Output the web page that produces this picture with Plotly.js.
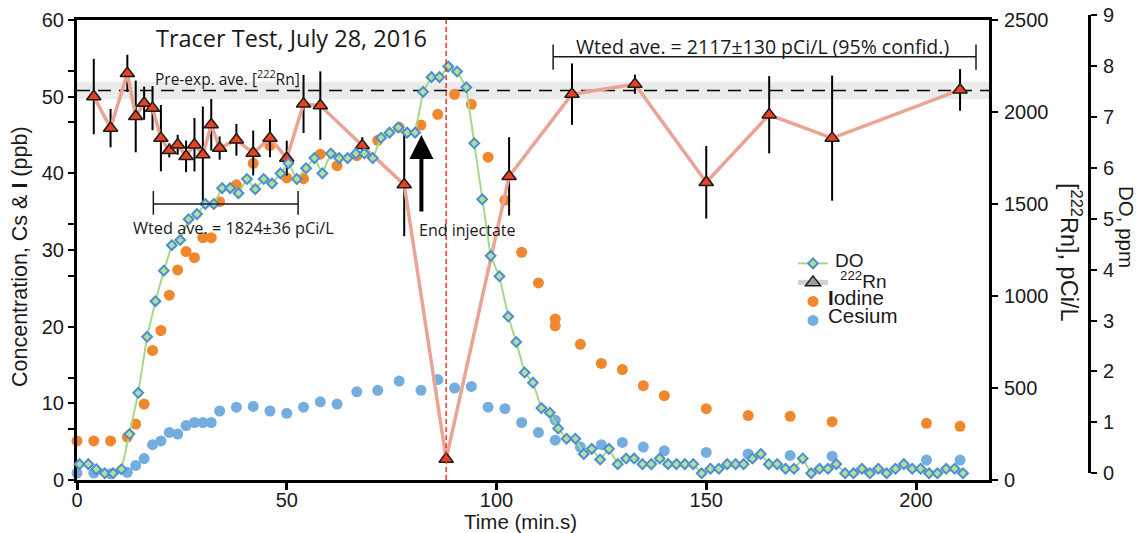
<!DOCTYPE html>
<html>
<head>
<meta charset="utf-8">
<script src="https://cdn.plot.ly/plotly-3.0.1.min.js"></script>
<style>
  html, body { margin: 0; padding: 0; background: #ffffff; }
  #chart { width: 1139px; height: 533px; }
</style>
</head>
<body>
<div id="chart"></div>
<script>
// Grab-sample times (min) shared by the iodine and cesium analyses
const sampleTime = [0, 4, 8, 12, 14, 16, 18, 20, 22, 24, 26, 28, 30, 32, 34, 38, 42, 46, 50, 54,
  58, 62, 66.7, 71.7, 76.8, 82, 86, 90, 94, 98, 102, 106, 110, 114, 114, 120, 125, 130, 135, 140,
  150, 160, 170, 180, 202.5, 210.5];
// Iodine, ppb
const iodine = [5.1, 5.1, 5.1, 5.6, 7.3, 9.9, 16.9, 19.5, 24.1, 27.4, 29.8, 29.0, 31.6, 31.6, 36.3, 38.5,
  41.3, 43.6, 39.4, 39.3, 42.5, 41.0, 42.3, 44.3, 46.0, 46.3, 47.7, 50.3, 49.0, 42.1, 36.5, 29.7,
  25.7, 21.0, 20.1, 17.7, 15.2, 14.4, 12.3, 11.0, 9.3, 8.4, 8.3, 7.6, 7.4, 7.0];
// Cesium, ppb
const cesium = [0.9, 0.9, 0.8, 1.0, 1.9, 2.8, 4.6, 5.1, 6.2, 6.0, 7.1, 7.5, 7.5, 7.5, 9.0, 9.5,
  9.6, 9.0, 8.7, 9.5, 10.2, 9.9, 11.5, 11.7, 12.9, 11.7, 13.1, 12.0, 12.2, 9.5, 9.3, 7.5,
  6.2, 7.8, 5.2, 4.3, 4.6, 4.9, 4.3, 3.8, 3.6, 3.4, 3.2, 3.1, 2.6, 2.6];

// Dissolved oxygen probe readings
const doTime = [0.6, 2.7, 4.6, 6.6, 8.6, 10.6, 12.5, 14.6, 16.7, 18.7, 20.7, 22.6, 24.6, 26.6, 28.6,
  30.6, 32.6, 34.6, 36.5, 38.5, 40.5, 42.5, 44.5, 46.5, 48.5, 50.4, 52.4, 54.6, 56.6, 58.5, 60.5,
  62.5, 64.5, 66.5, 68.5, 70.5, 72.5, 74.5, 76.6, 78.7, 80.6, 82.5, 84.5, 86.4, 88.5, 90.6, 92.8,
  94.7, 96.6, 98.6, 100.7, 102.8, 104.7, 106.7, 108.7, 110.7, 112.7, 114.7, 116.7, 118.8, 120.8,
  122.7, 124.7, 126.8, 128.9, 130.9, 132.8, 134.8, 136.9, 138.9, 140.9, 142.9, 144.9, 146.9, 148.9,
  151.0, 153.0, 155.0, 157.0, 158.9, 161.0, 163.0, 164.9, 166.9, 168.9, 170.9, 173.0, 175.0, 177.0,
  179.0, 181.0, 183.1, 185.1, 187.1, 189.0, 191.0, 193.0, 195.1, 197.1, 199.1, 201.1, 203.1, 205.1,
  207.2, 209.2, 211.2];
const doPpm = [0.18, 0.18, 0.08, 0.0, 0.0, 0.08, 0.77, 1.58, 2.68, 3.38, 3.98, 4.48, 4.58, 4.99, 5.09,
  5.29, 5.29, 5.6, 5.6, 5.5, 5.78, 5.58, 5.78, 5.69, 5.89, 6.09, 5.78, 5.99, 6.19, 5.89, 6.28,
  6.19, 6.19, 6.28, 6.28, 6.19, 6.59, 6.69, 6.79, 6.69, 6.69, 7.49, 7.78, 7.78, 7.99, 7.89, 7.58,
  6.48, 5.38, 4.27, 3.87, 3.08, 2.58, 1.98, 1.78, 1.28, 1.19, 0.88, 0.68, 0.68, 0.38,
  0.48, 0.27, 0.48, 0.18, 0.29, 0.29, 0.18, 0.18, 0.29, 0.18, 0.18, 0.18, 0.18, 0.0,
  0.09, 0.09, 0.18, 0.18, 0.18, 0.29, 0.38, 0.18, 0.18, 0.09, 0.09, 0.29, 0.0, 0.09,
  0.09, 0.18, 0.0, 0.0, 0.09, 0.0, 0.09, 0.0, 0.09, 0.18, 0.09, 0.09, 0.0, 0.0,
  0.09, 0.09, 0.0];

// Radon-222, pCi/L, with counting uncertainty
const rnTime = [4, 8, 12, 14, 16, 18, 20, 22, 24, 26, 28, 30, 32, 34, 38, 42, 46, 50, 54, 58,
  68, 78, 88, 103, 118, 133, 150, 165, 180, 210.5];
const rnConc = [2084, 1912, 2210, 1976, 2048, 2021, 1858, 1791, 1822, 1759, 1822, 1768, 1931, 1804,
  1849, 1777, 1858, 1749, 2044, 2035, 1818, 1605, 114, 1650, 2097, 2151, 1618, 1985, 1858, 2120];
const rnErr = [205, 104, 101, 195, 90, 120, 180, 38, 54, 86, 145, 262, 140, 63,
  86, 122, 104, 95, 158, 186, 45, 280, 0, 213, 167, 52, 197, 210, 340, 113];

// Reference radon level and its band, end of injection time
const rnAverage = 2117;
const rnBandHalf = 48;
const endInjection = 88;

// Averaging windows (min) for the two weighted radon means
const earlyWindow = [18.2, 52.7];
const lateWindow = [113.5, 214.3];

const xTickVals = [0, 50, 100, 150, 200];
const concTickVals = [0, 10, 20, 30, 40, 50, 60];
const rnTickVals = [0, 500, 1000, 1500, 2000, 2500];
const doTickVals = [0, 1, 2, 3, 4, 5, 6, 7, 8, 9];

const ARIAL = 'Liberation Sans, Arial, sans-serif';
const HUMANIST = 'Open Sans, Noto Sans, sans-serif';
const INK = '#1a1a1a';

const traces = [
  {
    x: sampleTime, y: cesium, type: 'scatter', mode: 'markers', name: '',
    xaxis: 'x', yaxis: 'y', cliponaxis: false, legendrank: 4,
    marker: { color: '#74ade0', size: 11 }
  },
  {
    x: sampleTime, y: iodine, type: 'scatter', mode: 'markers', name: '',
    xaxis: 'x', yaxis: 'y', cliponaxis: false, legendrank: 3,
    marker: { color: '#f0872c', size: 11 }
  },
  {
    x: rnTime, y: rnConc, type: 'scatter', mode: 'lines+markers', name: 'Rn',
    xaxis: 'x', yaxis: 'y2', cliponaxis: false, showlegend: false,
    line: { color: '#eaa496', width: 3.5 },
    marker: { symbol: 'triangle-up', size: 12.5, color: '#e8421e', line: { color: INK, width: 1.5 } },
    error_y: { type: 'data', array: rnErr, visible: true, color: '#000000', thickness: 2, width: 0 }
  },
  {
    x: doTime, y: doPpm, type: 'scatter', mode: 'lines+markers', name: '',
    xaxis: 'x', yaxis: 'y3', cliponaxis: false, legendrank: 1,
    line: { color: '#a6d986', width: 2 },
    marker: { symbol: 'diamond', size: 7.5, color: '#b8de90', line: { color: '#4a8fd6', width: 2 } }
  },
  {
    // legend key for the radon series
    x: [null], y: [null], type: 'scatter', mode: 'lines+markers', name: '',
    xaxis: 'x', yaxis: 'y', legendrank: 2,
    line: { color: '#d0d0d0', width: 5 },
    marker: { symbol: 'triangle-up', size: 13, color: '#9c9c9c', line: { color: INK, width: 1.5 } }
  }
];

const tickFont = { family: ARIAL, size: 20, color: INK };

// text placed in the plotting area (x: minutes, y: ppb axis)
function note(text, x, y, size) {
  return { text: text, xref: 'x', yref: 'y', x: x, y: y, showarrow: false,
    xanchor: 'center', yanchor: 'middle', font: { family: HUMANIST, size: size, color: INK } };
}
// text placed in paper coordinates
function paperText(text, x, y, size, angle, xanchor) {
  return { text: text, xref: 'paper', yref: 'paper', x: x, y: y, showarrow: false,
    textangle: angle || 0, xanchor: xanchor || 'center', yanchor: 'middle',
    font: { family: ARIAL, size: size, color: INK } };
}

const layout = {
  width: 1139, height: 533,
  margin: { l: 77, r: 40, t: 15, b: 53, pad: 0 },
  paper_bgcolor: '#ffffff', plot_bgcolor: 'rgba(0,0,0,0)',
  showlegend: true,
  legend: {
    x: 0.7006, y: 0.497, xanchor: 'left', yanchor: 'top',
    bgcolor: 'rgba(0,0,0,0)', borderwidth: 0,
    font: { family: ARIAL, size: 11, color: INK },
    tracegroupgap: 0, itemwidth: 30
  },
  xaxis: {
    domain: [0, 912 / 1022], range: [0, 217.4], anchor: 'y',
    showgrid: false, zeroline: false, showline: true, linecolor: '#000', linewidth: 3, mirror: true,
    ticks: 'outside', tickvals: xTickVals, ticklen: 7, tickwidth: 3, tickcolor: '#000',
    ticklabelstandoff: -7, tickfont: tickFont
  },
  yaxis: {
    domain: [0, 460 / 465], range: [0, 60], anchor: 'x',
    showgrid: false, zeroline: false, showline: true, linecolor: '#000', linewidth: 3,
    ticks: 'outside', tickvals: concTickVals, ticklen: 6, tickwidth: 2, tickcolor: '#000',
    minor: { tick0: 0, dtick: 20 / 3, ticks: 'outside', ticklen: 6, tickwidth: 2, tickcolor: '#000' },
    tickfont: tickFont
  },
  yaxis2: {
    overlaying: 'y', side: 'right', anchor: 'x', range: [0, 2500],
    showgrid: false, zeroline: false, showline: true, linecolor: '#000', linewidth: 3,
    ticks: 'outside', tickvals: rnTickVals, ticklen: 6, tickwidth: 2, tickcolor: '#000',
    ticklabelstandoff: 2, tickfont: tickFont
  },
  yaxis3: {
    domain: [6.7 / 465, 1], range: [0, 9], anchor: 'free', position: 0.9902, side: 'right',
    showgrid: false, zeroline: false, showline: true, linecolor: '#000', linewidth: 3,
    ticks: 'outside', tickvals: doTickVals, ticklen: 6, tickwidth: 2, tickcolor: '#000',
    ticklabelstandoff: 2, tickfont: tickFont
  },
  shapes: [
    // band around the reference radon level
    { type: 'rect', layer: 'below', xref: 'x domain', yref: 'y2', x0: 0, x1: 1,
      y0: rnAverage - rnBandHalf, y1: rnAverage + rnBandHalf, fillcolor: '#ebebeb', line: { width: 0 } },
    { type: 'line', layer: 'below', xref: 'x domain', yref: 'y2', x0: 0, x1: 1,
      y0: rnAverage, y1: rnAverage, line: { color: '#000', width: 1.5, dash: '13px,8px' } },
    // end of injection
    { type: 'line', layer: 'above', xref: 'x', yref: 'y domain', x0: endInjection, x1: endInjection,
      y0: 0, y1: 1, line: { color: '#e8352c', width: 1.5, dash: '5px,3px' } },
    // early averaging window bracket
    { type: 'line', xref: 'x', yref: 'y', x0: earlyWindow[0], x1: earlyWindow[1], y0: 36.0, y1: 36.0,
      line: { color: INK, width: 1.5 } },
    { type: 'line', xref: 'x', yref: 'y', x0: earlyWindow[0], x1: earlyWindow[0], y0: 34.6, y1: 37.7,
      line: { color: INK, width: 1.5 } },
    { type: 'line', xref: 'x', yref: 'y', x0: earlyWindow[1], x1: earlyWindow[1], y0: 34.6, y1: 37.7,
      line: { color: INK, width: 1.5 } },
    // late averaging window bracket
    { type: 'line', xref: 'x', yref: 'y', x0: lateWindow[0], x1: lateWindow[1], y0: 55.2, y1: 55.2,
      line: { color: INK, width: 1.5 } },
    { type: 'line', xref: 'x', yref: 'y', x0: lateWindow[0], x1: lateWindow[0], y0: 53.5, y1: 56.8,
      line: { color: INK, width: 1.5 } },
    { type: 'line', xref: 'x', yref: 'y', x0: lateWindow[1], x1: lateWindow[1], y0: 53.5, y1: 56.8,
      line: { color: INK, width: 1.5 } }
  ],
  annotations: [
    note('Tracer Test, July 28, 2016', 51.2, 57.6, 23.5),
    note('Pre-exp. ave. [<sup>222</sup>Rn]', 35.8, 52.4, 15.5),
    note('Wted ave. = 1824\u00b136 pCi/L', 37.4, 32.9, 16.3),
    note('Wted ave. = 2117\u00b1130 pCi/L (95% confid.)', 163.5, 56.6, 19.5),
    note('End injectate', 93.0, 32.6, 16),
    // arrow marking the end of injection
    { text: '', xref: 'x', yref: 'y', x: 82.1, y: 45.0, showarrow: true, axref: 'pixel', ayref: 'pixel',
      ax: 0, ay: 78, arrowhead: 2, arrowsize: 1.2, arrowwidth: 4, arrowcolor: '#000', standoff: 0 },
    // axis titles
    paperText('Concentration, Cs & <b>I</b> (ppb)', -0.0558, 0.4817, 21.5, -90),
    paperText('Time (min.s)', 0.4335, -0.089, 20.5, 0),
    paperText('[<sup>222</sup>Rn], pCi/L', 0.9726, 0.4903, 23.5, 90),
    paperText('DO, ppm', 1.0274, 0.544, 20.5, 90),
    // legend labels
    paperText('DO', 0.7397, 0.4716, 19, 0, 'left'),
    paperText('<sup>222</sup>Rn', 0.7446, 0.4301, 19, 0, 'left'),
    paperText('<b>I</b>odine', 0.7329, 0.3935, 20.5, 0, 'left'),
    paperText('Cesium', 0.7329, 0.3527, 20.5, 0, 'left')
  ]
};

Plotly.newPlot('chart', traces, layout, { displayModeBar: false, staticPlot: true });
</script>
</body>
</html>
